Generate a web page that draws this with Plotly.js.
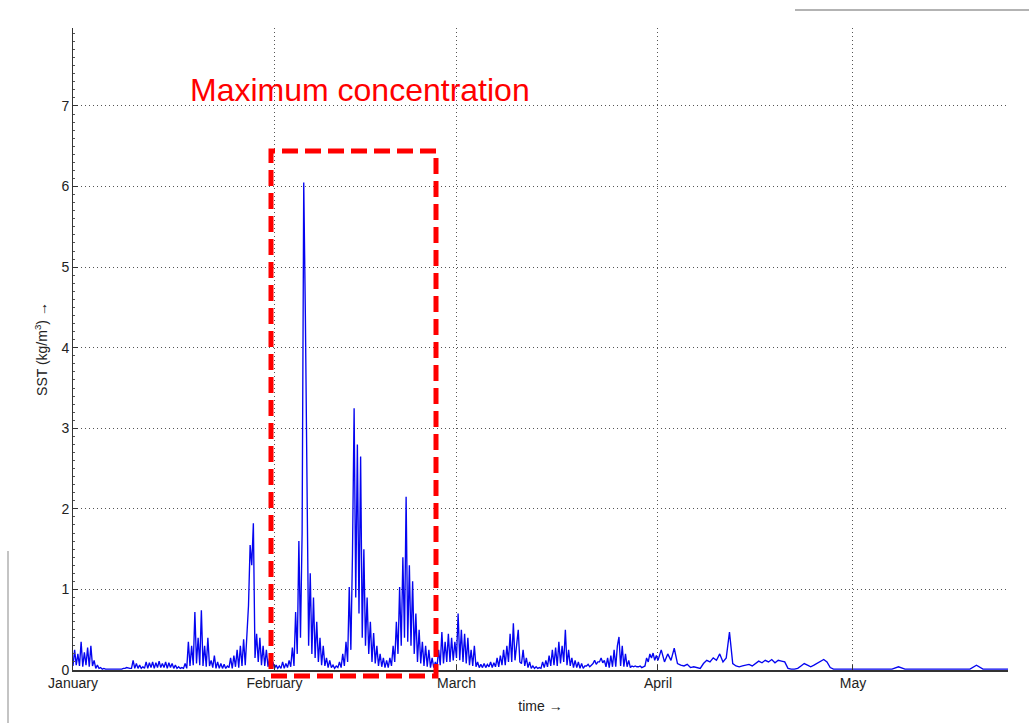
<!DOCTYPE html>
<html>
<head>
<meta charset="utf-8">
<script src="https://cdn.plot.ly/plotly-3.0.1.min.js"></script>
<style>html,body{margin:0;padding:0;background:#fff;}#chart{width:1029px;height:723px;}</style>
</head>
<body>
<div id="chart"></div>
<script>
// Month ticks (day of year, 0 = 1 January)
const monthNames = ['January', 'February', 'March', 'April', 'May'];
const monthStartDay = [0, 31, 59, 90, 120];
const yTicks = [0, 1, 2, 3, 4, 5, 6, 7];

// SST readings (kg/m3); sampling step per month in days
const janStep = 0.25;
const sstJanuary = [
  0.05,0.25,0.06,0.20, 0.05,0.35,0.04,0.22, 0.06,0.28,0.04,0.30, 0.05,0.12,0.02,0.06,
  0.02,0.03,0.01,0.02, 0.01,0.01,0.01,0.01, 0.01,0.01,0.01,0.01, 0.01,0.01,0.01,0.02,
  0.02,0.03,0.02,0.02, 0.02,0.12,0.02,0.08, 0.02,0.06,0.02,0.04, 0.02,0.10,0.02,0.09,
  0.03,0.10,0.02,0.09, 0.03,0.11,0.03,0.08, 0.03,0.10,0.02,0.09, 0.03,0.08,0.02,0.06,
  0.02,0.04,0.02,0.03, 0.02,0.08,0.02,0.35, 0.05,0.30,0.06,0.72, 0.08,0.40,0.06,0.74,
  0.05,0.30,0.04,0.40, 0.05,0.12,0.03,0.18, 0.02,0.10,0.02,0.08, 0.02,0.07,0.02,0.05,
  0.03,0.15,0.02,0.18, 0.04,0.25,0.03,0.30, 0.05,0.38,0.06,0.45, 0.80,1.55,1.30,1.82,
  0.15,0.45,0.10,0.40, 0.06,0.30,0.05,0.25, 0.04,0.15,0.03,0.10
];
const febStep = 0.25;
const sstFebruary = [
  0.02,0.06,0.02,0.05, 0.02,0.10,0.02,0.08, 0.03,0.12,0.04,0.28, 0.05,0.72,0.20,1.60,
  0.40,1.70,6.05,4.40, 1.90,0.30,1.20,0.20, 0.90,0.15,0.60,0.10, 0.40,0.06,0.30,0.05,
  0.15,0.03,0.12,0.03, 0.06,0.02,0.05,0.03, 0.10,0.03,0.20,0.05, 0.35,0.10,1.03,0.25,
  1.45,3.25,0.90,2.80, 0.70,2.65,0.40,1.50, 0.30,0.90,0.20,0.60, 0.10,0.46,0.08,0.30,
  0.05,0.20,0.04,0.15, 0.03,0.12,0.03,0.15, 0.05,0.30,0.10,0.60, 0.20,1.03,0.30,1.40,
  0.40,2.15,0.35,1.30, 0.30,1.10,0.20,0.70, 0.10,0.50,0.08,0.35, 0.05,0.30,0.04,0.25,
  0.03,0.15,0.03,0.10, 0.04,0.25,0.06,0.47, 0.08,0.35,0.10,0.45, 0.10,0.40,0.12,0.35
];
const marStep = 0.25;
const sstMarch = [
  0.15,0.70,0.12,0.50, 0.10,0.45,0.08,0.40, 0.06,0.25,0.05,0.30, 0.04,0.10,0.03,0.07,
  0.03,0.08,0.03,0.07, 0.04,0.10,0.03,0.09, 0.04,0.15,0.04,0.18, 0.06,0.25,0.06,0.30,
  0.10,0.45,0.10,0.58, 0.12,0.35,0.50,0.10, 0.08,0.25,0.05,0.15, 0.03,0.10,0.02,0.05,
  0.02,0.04,0.02,0.03, 0.02,0.10,0.03,0.12, 0.04,0.18,0.05,0.25, 0.06,0.28,0.05,0.35,
  0.08,0.30,0.10,0.50, 0.06,0.25,0.05,0.15, 0.03,0.12,0.03,0.10, 0.02,0.08,0.02,0.05,
  0.05,0.07,0.04,0.06, 0.08,0.12,0.07,0.10, 0.10,0.15,0.09,0.12, 0.04,0.15,0.03,0.18,
  0.04,0.25,0.04,0.30, 0.41,0.05,0.30,0.04, 0.20,0.04,0.12,0.03, 0.05,0.04,0.05,0.04,
  0.04,0.05,0.03,0.04, 0.05,0.15,0.10,0.20, 0.15,0.21,0.12,0.18
];
const aprStep = 0.5;
const sstApril = [
  0.12,0.25, 0.10,0.20, 0.12,0.27, 0.08,0.06, 0.05,0.07, 0.03,0.04, 0.03,0.02, 0.08,0.12,
  0.10,0.15, 0.12,0.20, 0.10,0.15, 0.47,0.08, 0.05,0.04, 0.05,0.06, 0.07,0.05, 0.08,0.11,
  0.09,0.12, 0.10,0.13, 0.09,0.12, 0.11,0.10, 0.02,0.01, 0.01,0.02, 0.05,0.08, 0.06,0.04,
  0.06,0.08, 0.10,0.13, 0.10,0.03, 0.01,0.01, 0.01,0.01, 0.01,0.01
];
const mayStep = 1;
const sstMay = [
  0.01,0.01,0.01,0.01,0.01,0.01,0.01,0.04,0.01,0.01,0.01,0.01,0.01,
  0.01,0.01,0.01,0.01,0.01,0.01,0.06,0.01,0.01,0.01,0.01,0.01
];

// Assemble the time series
const months = [
  [monthStartDay[0], janStep, sstJanuary],
  [monthStartDay[1], febStep, sstFebruary],
  [monthStartDay[2], marStep, sstMarch],
  [monthStartDay[3], aprStep, sstApril],
  [monthStartDay[4], mayStep, sstMay]
];
const days = [], sst = [];
months.forEach(([start, step, vals]) => {
  vals.forEach((v, i) => { days.push(start + i * step); sst.push(v); });
});

const FONT = 'Liberation Sans, Arial, Helvetica, sans-serif';
const gridDash = '1px,3px';

const trace = {
  type: 'scatter', mode: 'lines',
  x: days, y: sst,
  line: {color: '#0505f0', width: 1.35},
  hoverinfo: 'skip'
};

// Pixel-to-paper helpers for decoration placement (plot area 73..1008 x 28..670)
const px = v => (v - 73) / 935;
const py = v => (670 - v) / 642;

const layout = {
  width: 1029, height: 723,
  margin: {l: 73, r: 21, t: 28, b: 53, pad: 0},
  paper_bgcolor: '#ffffff', plot_bgcolor: '#ffffff',
  showlegend: false,
  font: {family: FONT, color: '#222', size: 14},
  xaxis: {
    range: [0, 143.85],
    tickmode: 'array', tickvals: monthStartDay, ticktext: monthNames,
    ticks: 'inside', ticklen: 5, tickcolor: '#333', tickwidth: 1,
    showgrid: true, gridcolor: '#555', gridwidth: 1, griddash: gridDash,
    showline: true, linecolor: '#333', linewidth: 1.5,
    zeroline: false, automargin: false,
    tickfont: {family: FONT, size: 14, color: '#222'},
    title: {text: 'time \u2192', font: {family: FONT, size: 14, color: '#222'}, standoff: 11}
  },
  yaxis: {
    range: [0, 7.968],
    tickmode: 'array', tickvals: yTicks,
    ticks: 'inside', ticklen: 5, tickcolor: '#333', tickwidth: 1,
    minor: {ticks: 'inside', ticklen: 2, tickcolor: '#555', dtick: 0.1, tick0: 0, showgrid: false},
    showgrid: true, gridcolor: '#555', gridwidth: 1, griddash: gridDash,
    showline: true, linecolor: '#333', linewidth: 1,
    zeroline: false, automargin: false,
    tickfont: {family: FONT, size: 14, color: '#222'},
    title: {text: 'SST (kg/m<sup>3</sup>) \u2192', font: {family: FONT, size: 14, color: '#222'}, standoff: 10}
  },
  shapes: [
    {type: 'rect', xref: 'paper', yref: 'paper',
     x0: px(271), x1: px(436), y0: py(676), y1: py(151),
     line: {color: '#ff0000', width: 5, dash: '16px,7px'}, fillcolor: 'rgba(0,0,0,0)', layer: 'above'},
    {type: 'line', xref: 'paper', yref: 'paper', x0: px(795), x1: px(1029), y0: py(10), y1: py(10),
     line: {color: '#9a9a9a', width: 1.5}},
    {type: 'line', xref: 'paper', yref: 'paper', x0: px(8), x1: px(8), y0: py(551), y1: py(723),
     line: {color: '#b0b0b0', width: 1.5}}
  ],
  annotations: [
    {text: 'Maximum concentration', xref: 'paper', yref: 'paper',
     x: px(188), y: py(90), xanchor: 'left', yanchor: 'middle', showarrow: false,
     font: {family: FONT, size: 32, color: '#ff0000'}}
  ]
};

Plotly.newPlot('chart', [trace], layout, {displayModeBar: false, staticPlot: true});
</script>
</body>
</html>
